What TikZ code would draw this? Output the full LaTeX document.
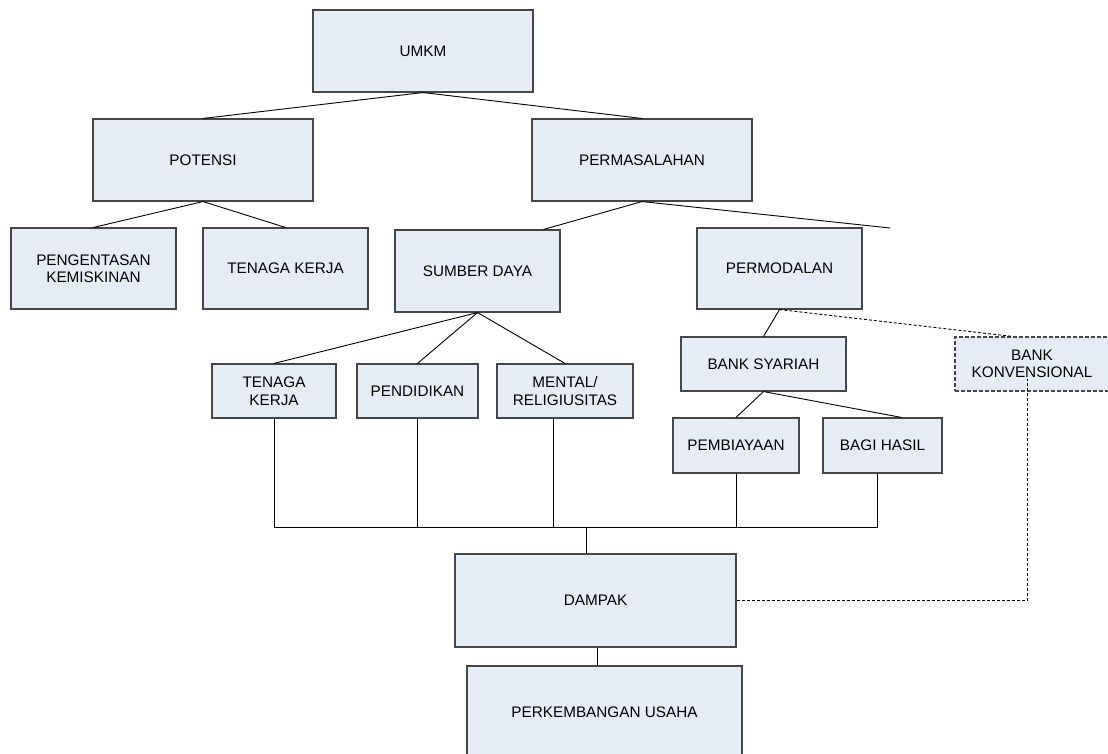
\documentclass[tikz,border=0pt]{standalone}
\usepackage{fontspec}
\setmainfont{Liberation Sans}
\usetikzlibrary{calc}
\definecolor{boxfill}{RGB}{230,236,246}
\definecolor{boxline}{RGB}{70,70,70}
\tikzset{
  box/.style={draw=boxline, fill=boxfill, line width=1.1pt, inner sep=0pt, align=center,
    font=\fontsize{15.3}{17.5}\selectfont},
  conn/.style={draw=black, line width=0.9pt},
  dconn/.style={draw=black, line width=0.9pt, dash pattern=on 3pt off 2pt},
  dbox/.style={box, dash pattern=on 4pt off 2pt}
}
\begin{document}
\begin{tikzpicture}[x=1pt,y=-1pt]
\useasboundingbox (0,0) rectangle (1108,754);
\node[box, minimum width=220pt, minimum height=82pt] (umkm) at (423,51) {UMKM};
\node[box, minimum width=220pt, minimum height=82pt] (pot) at (203,160) {POTENSI};
\node[box, minimum width=220pt, minimum height=82pt] (perm) at (642,160) {PERMASALAHAN};
\node[box, minimum width=165pt, minimum height=81pt] (peng) at (93.5,268.5) {PENGENTASAN\\KEMISKINAN};
\node[box, minimum width=165pt, minimum height=81pt] (tk1) at (285.5,268.5) {TENAGA KERJA};
\node[box, minimum width=165pt, minimum height=82pt] (sd) at (477.5,271) {SUMBER DAYA};
\node[box, minimum width=165pt, minimum height=81pt] (modal) at (779.5,268.5) {PERMODALAN};
\node[box, minimum width=124pt, minimum height=54pt] (tk2) at (274,391) {TENAGA\\KERJA};
\node[box, minimum width=121pt, minimum height=54pt] (pend) at (417.5,391) {PENDIDIKAN};
\node[box, minimum width=136pt, minimum height=54pt] (mental) at (565,391) {MENTAL/\\RELIGIUSITAS};
\node[box, minimum width=165pt, minimum height=54pt] (bs) at (763.5,364) {BANK SYARIAH};
\node[dbox, minimum width=154pt, minimum height=54pt] (bk) at (1032,364) {BANK\\KONVENSIONAL};
\node[box, minimum width=126pt, minimum height=55pt] (pemb) at (736,445.5) {PEMBIAYAAN};
\node[box, minimum width=119pt, minimum height=55pt] (bagi) at (882.5,445.5) {BAGI HASIL};
\node[box, minimum width=281pt, minimum height=93pt] (dampak) at (595.5,600.5) {DAMPAK};
\node[box, minimum width=275pt, minimum height=92pt] (usaha) at (604.5,712) {PERKEMBANGAN USAHA};

\coordinate (free) at (890,228);
\coordinate (busY) at (0,527);
\coordinate (bkv) at (1027,379);

\draw[conn] (umkm.south) -- (pot.north);
\draw[conn] (umkm.south) -- (perm.north);
\draw[conn] (pot.south) -- (peng.north);
\draw[conn] (pot.south) -- (tk1.north);
\draw[conn] (perm.south) -- ([xshift=-17pt]sd.north east);
\draw[conn] (perm.south) -- (free);
\draw[conn] (sd.south) -- (tk2.north);
\draw[conn] (sd.south) -- (pend.north);
\draw[conn] (sd.south) -- (mental.north);
\draw[conn] (modal.south) -- (bs.north);
\draw[dconn] (modal.south) -- ([xshift=58pt]bk.north west);
\draw[conn] (bs.south) -- (pemb.north);
\draw[conn] (bs.south) -- ([xshift=-41pt]bagi.north east);

\coordinate (mv) at ([xshift=57pt]mental.south west);
\coordinate (bv) at ([xshift=55pt]bagi.south west);
\coordinate (dv) at ([xshift=132pt]dampak.north west);
\coordinate (uv) at ([xshift=143pt]dampak.south west);
\draw[conn] (tk2.south) -- (tk2.south |- busY) -- (bv |- busY) -- (bv);
\draw[conn] (pend.south) -- (pend.south |- busY);
\draw[conn] (mv) -- (mv |- busY);
\draw[conn] (pemb.south) -- (pemb.south |- busY);
\draw[conn] (dv) -- (dv |- busY);
\draw[conn] (uv) -- (uv |- usaha.north);
\draw[dconn] (dampak.east) -| (bkv);
\end{tikzpicture}
\end{document}
